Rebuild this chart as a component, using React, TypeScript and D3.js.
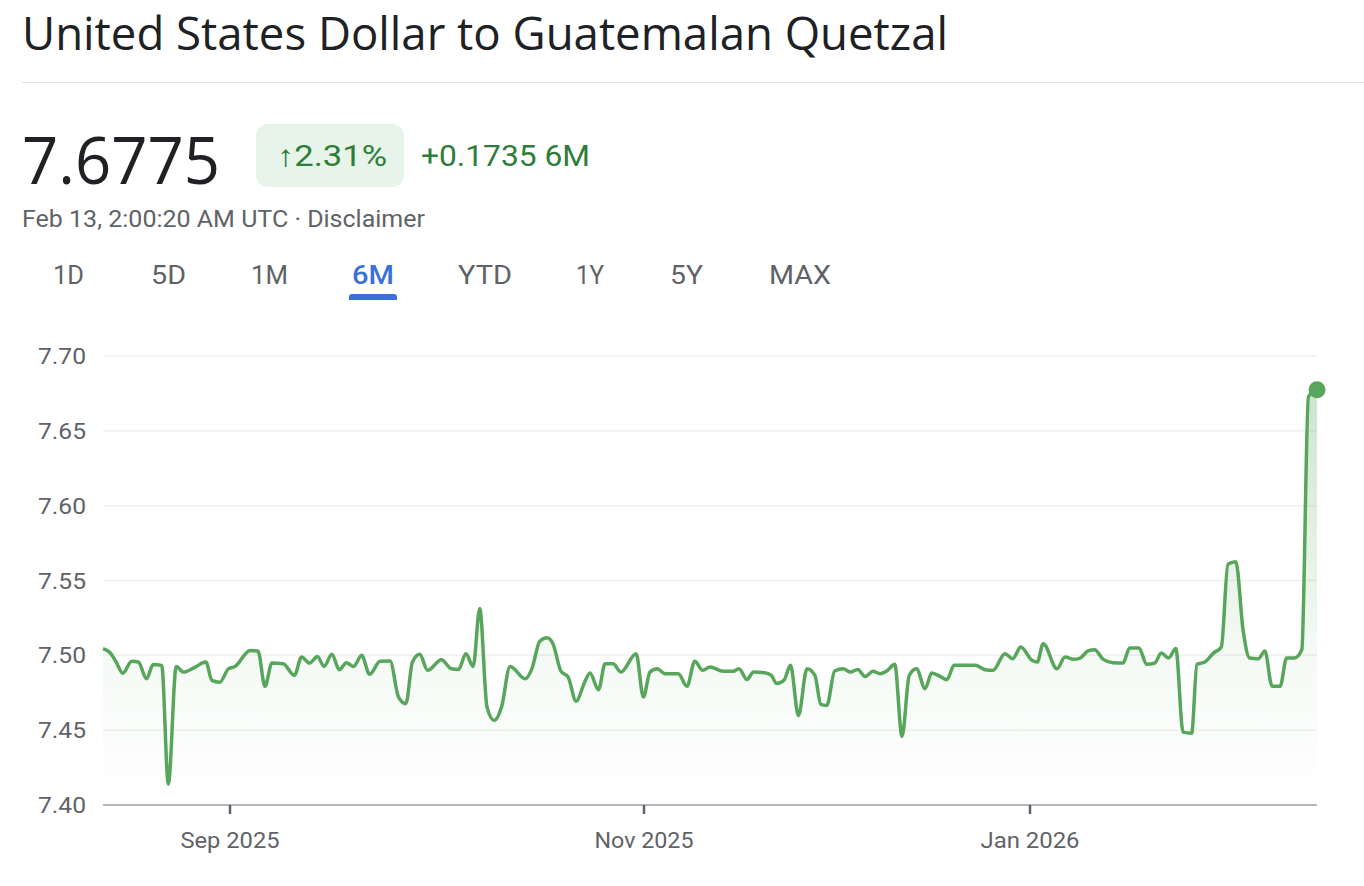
import React from "react";
import * as d3 from "d3";

// Session index (0 = Aug 13, 2025 ... 184 = Feb 13, 2026) and USD/GTQ rate
const sessions = [
  0, 1, 2, 3, 4.35, 5.35, 6.6, 7.6, 8.9, 9.9, 11.1, 12.2, 13.9, 15.6, 16.5, 17.7, 19, 20, 22.3, 23.5,
  24.55, 25.6, 27.3, 29, 30.1, 31.3, 32.5, 33.5, 34.7, 35.8, 36.9, 38, 39.2, 40.4, 42, 43.5, 44.8, 45.9, 46.9, 48,
  49.2, 51.3, 52.8, 53.9, 55, 56.1, 57.1, 58.2, 59.3, 60.4, 61.7, 64, 65, 66.2, 67.3, 68.2, 69.4, 70.5, 71.7, 73,
  73.8, 75.1, 76.1, 77.3, 78.5, 80.8, 81.9, 82.9, 84, 85.2, 87.2, 88.5, 89.7, 90.9, 92, 94, 95.5, 96.4, 97.6, 98.6,
  100.3, 101.3, 102.1, 103.2, 104.2, 105.4, 106.7, 107.9, 108.8, 109.7, 110.9, 112.2, 113.3, 114.4, 115.5, 116.7, 117.8, 118.8, 120, 121.1,
  122.2, 123.3, 124.6, 125.6, 126.6, 127.9, 129, 132.2, 133.7, 134.9, 136.7, 137.9, 139.1, 140.8, 141.6, 142.5, 144.6, 145.8, 147.1, 148.1,
  149.3, 150.3, 151.6, 153.1, 154.6, 155.6, 157, 158.2, 159.4, 160.4, 161.5, 162.6, 163.7, 165, 165.8, 167, 168.3, 169.5, 170.5, 171.7,
  172.8, 173.8, 175.1, 176.1, 177.2, 178.4, 179.4, 180.6, 181.7, 182.7, 184,
];
const rates = [
  7.5045, 7.502, 7.4955, 7.488, 7.496, 7.4955, 7.4844, 7.4938, 7.4933, 7.414, 7.4926, 7.4888, 7.492, 7.4955, 7.4833, 7.482, 7.491, 7.4926, 7.5033, 7.5027,
  7.4793, 7.4948, 7.4944, 7.4866, 7.4989, 7.4948, 7.4993, 7.4926, 7.5007, 7.4904, 7.4951, 7.4926, 7.5, 7.4873, 7.496, 7.4962, 7.4721, 7.4677, 7.4955, 7.5007,
  7.49, 7.4971, 7.491, 7.4906, 7.5011, 7.4926, 7.5313, 7.4654, 7.4565, 7.4654, 7.4926, 7.4844, 7.491, 7.5094, 7.5118, 7.5078, 7.4895, 7.4855, 7.4694, 7.482,
  7.4882, 7.477, 7.4944, 7.4944, 7.4888, 7.5011, 7.4721, 7.4888, 7.491, 7.4877, 7.4877, 7.4793, 7.496, 7.49, 7.4922, 7.4893, 7.4893, 7.491, 7.4839, 7.4888,
  7.4884, 7.4866, 7.4811, 7.4833, 7.4933, 7.4598, 7.491, 7.4866, 7.4672, 7.4665, 7.4895, 7.491, 7.4888, 7.4906, 7.4859, 7.4893, 7.4877, 7.4895, 7.494, 7.4458,
  7.4866, 7.491, 7.4777, 7.4882, 7.4866, 7.4837, 7.4933, 7.4933, 7.4904, 7.49, 7.5011, 7.4978, 7.5056, 7.4967, 7.4955, 7.5078, 7.491, 7.4989, 7.4973, 7.4982,
  7.5029, 7.5038, 7.4973, 7.4951, 7.4948, 7.5049, 7.5049, 7.494, 7.4948, 7.5015, 7.4982, 7.5045, 7.4487, 7.448, 7.494, 7.4955, 7.5015, 7.5056, 7.5609, 7.5625,
  7.5167, 7.4982, 7.4978, 7.5029, 7.4793, 7.4793, 7.4982, 7.4982, 7.5038, 7.6729, 7.6775,
];
const yTicks = [7.4, 7.45, 7.5, 7.55, 7.6, 7.65, 7.7];
const xTickLabels = ["Sep 2025", "Nov 2025", "Jan 2026"];
const xTickSessions = [19.25, 82, 140.5];
const rangeLabels = ["1D", "5D", "1M", "6M", "YTD", "1Y", "5Y", "MAX"];
const activeRange = "6M";

const TITLE = "United States Dollar to Guatemalan Quetzal";
const PRICE = "7.6775";
const PCT = "2.31%";
const CHANGE = "+0.1735 6M";
const STAMP = "Feb 13, 2:00:20 AM UTC · Disclaimer";

// layout
const W = 1364;
const H = 886;
const TAB_X = [68.5, 168.5, 269.5, 373, 485, 590, 686.5, 800];
const TAB_W = [31, 35, 37, 42, 54, 28, 33, 62];
const GREEN = "#57a65b";
const TEXT_GREEN = "#2e7d38";
const GRAY = "#5f6368";
const BLUE = "#3b6fd9";

export default function App() {
  const x = d3.scaleLinear().domain([0, 184]).range([103, 1317]);
  const y = d3.scaleLinear().domain([7.4, 7.7]).range([805, 356]);
  const data = sessions.map((s, i) => ({ s, v: rates[i] }));
  const line = d3
    .line<{ s: number; v: number }>()
    .x((d) => x(d.s))
    .y((d) => y(d.v))
    .curve(d3.curveMonotoneX);
  const area = d3
    .area<{ s: number; v: number }>()
    .x((d) => x(d.s))
    .y0(y(7.4))
    .y1((d) => y(d.v))
    .curve(d3.curveMonotoneX);
  const last = data[data.length - 1];
  const font = "Roboto, 'Noto Sans', Arial, sans-serif";
  const yTop = y(7.68);
  const yMid = y(7.5);
  const yBot = y(7.4);
  const midOff = (yMid - yTop) / (yBot - yTop);

  return (
    <svg
      width={W}
      height={H}
      style={{ position: "absolute", left: 0, top: 0, display: "block", background: "#fff" }}
      fontFamily={font}
    >
      <defs>
        <linearGradient id="fillG" gradientUnits="userSpaceOnUse" x1="0" y1={yTop} x2="0" y2={yBot}>
          <stop offset="0" stopColor={GREEN} stopOpacity={0.3} />
          <stop offset={midOff} stopColor={GREEN} stopOpacity={0.06} />
          <stop offset="1" stopColor={GREEN} stopOpacity={0} />
        </linearGradient>
      </defs>

      <text
        x={22}
        y={50}
        fontSize={46}
        fill="#202124"
        fontFamily="'Open Sans', Roboto, sans-serif"
        textLength={926}
        lengthAdjust="spacingAndGlyphs"
      >
        {TITLE}
      </text>
      <line x1={22} x2={W} y1={82.5} y2={82.5} stroke="#e3e3e3" strokeWidth={1} />

      <text
        x={22}
        y={184}
        fontSize={66}
        fill="#202124"
        fontFamily="'Open Sans', Roboto, sans-serif"
        textLength={198}
        lengthAdjust="spacingAndGlyphs"
      >
        {PRICE}
      </text>

      <rect x={256} y={124} width={148} height={63} rx={12} fill="#e6f4ea" />
      <text x={277} y={166} fontSize={30} fill={TEXT_GREEN} textLength={110} lengthAdjust="spacingAndGlyphs">
        {"\u2191" + PCT}
      </text>
      <text x={421} y={166} fontSize={30} fill={TEXT_GREEN} textLength={169} lengthAdjust="spacingAndGlyphs">
        {CHANGE}
      </text>

      <text x={22} y={227} fontSize={23} fill={GRAY} textLength={403} lengthAdjust="spacingAndGlyphs">
        {STAMP}
      </text>

      {rangeLabels.map((r, i) => (
        <text
          key={r}
          x={TAB_X[i] - TAB_W[i] / 2}
          y={284}
          fontSize={26}
          fill={r === activeRange ? BLUE : GRAY}
          fontWeight={r === activeRange ? 500 : 400}
          textLength={TAB_W[i]}
          lengthAdjust="spacingAndGlyphs"
        >
          {r}
        </text>
      ))}
      <path d={`M349,300 L349,297 Q349,294 352,294 L394,294 Q397,294 397,297 L397,300 Z`} fill={BLUE} />

      {yTicks.slice(1).map((t) => (
        <line key={t} x1={103} x2={1317} y1={y(t)} y2={y(t)} stroke="#f0f0f0" strokeWidth={1.5} />
      ))}
      {yTicks.map((t) => (
        <text
          key={"l" + t}
          x={38}
          y={y(t) + 8}
          fontSize={22}
          fill={GRAY}
          textLength={48}
          lengthAdjust="spacingAndGlyphs"
        >
          {t.toFixed(2)}
        </text>
      ))}

      <path d={area(data) || ""} fill="url(#fillG)" />
      <path d={line(data) || ""} fill="none" stroke={GREEN} strokeWidth={3.5} strokeLinejoin="round" />
      <circle cx={x(last.s)} cy={y(last.v)} r={8.5} fill={GREEN} />

      <line x1={103} x2={1317} y1={y(7.4)} y2={y(7.4)} stroke="#9aa0a6" strokeWidth={1.5} />
      {xTickSessions.map((s, i) => (
        <g key={xTickLabels[i]}>
          <line x1={x(s)} x2={x(s)} y1={y(7.4)} y2={y(7.4) + 9} stroke={GRAY} strokeWidth={2.5} />
          <text
            x={x(s) - 49.5}
            y={848}
            fontSize={22}
            fill={GRAY}
            textLength={99}
            lengthAdjust="spacingAndGlyphs"
          >
            {xTickLabels[i]}
          </text>
        </g>
      ))}
    </svg>
  );
}
